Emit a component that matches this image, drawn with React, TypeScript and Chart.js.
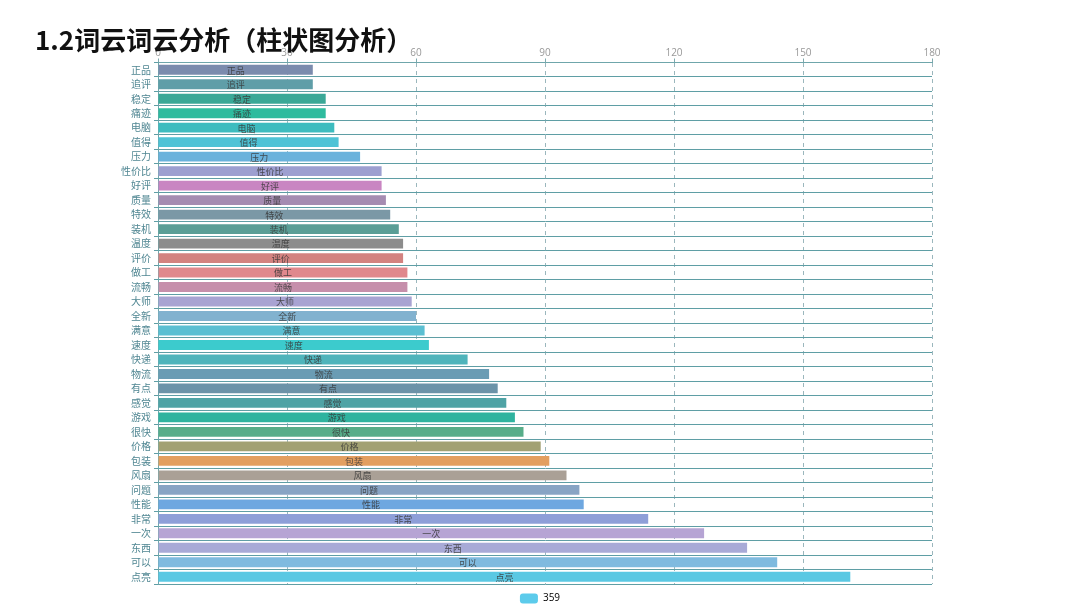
import React, { useEffect, useRef } from "react";
import { Chart, registerables } from "chart.js";

Chart.register(...registerables);

const categories = [
  "正品", "追评", "稳定", "痛迹", "电脑", "值得", "压力", "性价比", "好评", "质量", "特效", "装机",
  "温度", "评价", "做工", "流畅", "大师", "全新", "满意", "速度", "快递", "物流", "有点", "感觉",
  "游戏", "很快", "价格", "包装", "风扇", "问题", "性能", "非常", "一次", "东西", "可以", "点亮",
];

const values = [
  36, 36, 39, 39, 41, 42, 47, 52, 52, 53, 54, 56,
  57, 57, 58, 58, 59, 60, 62, 63, 72, 77, 79, 81,
  83, 85, 89, 91, 95, 98, 99, 114, 127, 137, 144, 161,
];

const barColors = [
  "#7b8bad", "#5f9ea8", "#3aa897", "#2ebb9e", "#3dbcbf", "#4ec3d6", "#6ab2dc", "#9d9fd0", "#c985c2", "#a58cb1", "#7b98a6", "#5a9e96",
  "#8c8c8c", "#d38280", "#e0888d", "#c68fab", "#a8a3d2", "#82b2cf", "#5bbfd2", "#3ccbcd", "#4fb4bb", "#6a9cb4", "#6c93a8", "#4fa3a5",
  "#2fb39f", "#58ad89", "#a2a173", "#e39f60", "#aaa096", "#88a4c4", "#6ea7e0", "#8e9fd8", "#b6a4d4", "#a8aad7", "#7fbadf", "#5ac8e3",
];

const xTicks = [0, 30, 60, 90, 120, 150, 180];
const seriesLabel = "359";

export default function App() {
  const canvasRef = useRef<HTMLCanvasElement | null>(null);

  useEffect(() => {
    if (!canvasRef.current) return;
    const barLabelPlugin = {
      id: "barLabels",
      afterDatasetsDraw(chart: any) {
        const ctx = chart.ctx;
        const meta = chart.getDatasetMeta(0);
        ctx.save();
        ctx.font = '9px "Noto Sans CJK SC", sans-serif';
        ctx.fillStyle = "rgba(55,55,55,0.85)";
        ctx.textAlign = "center";
        ctx.textBaseline = "middle";
        meta.data.forEach((el: any, i: number) => {
          const p = el.getProps(["x", "y", "base"], true);
          ctx.fillText(categories[i], (p.x + p.base) / 2, p.y + 0.5);
        });
        ctx.restore();
      },
    };

    const chart = new Chart(canvasRef.current, {
      type: "bar",
      data: {
        labels: categories,
        datasets: [
          {
            label: seriesLabel,
            data: values,
            backgroundColor: barColors,
            barPercentage: 0.68,
            categoryPercentage: 1,
          },
        ],
      },
      options: {
        indexAxis: "y",
        responsive: false,
        animation: false,
        layout: { padding: { top: 0, left: 0, right: 0, bottom: -5.5 } },
        scales: {
          x: {
            position: "top",
            min: 0,
            max: 180,
            afterBuildTicks: (scale: any) => {
              scale.ticks = xTicks.map((v) => ({ value: v }));
            },
            afterFit: (scale: any) => {
              scale.height = 62.5;
            },
            ticks: {
              color: "#999",
              font: { size: 10, family: '"Open Sans", "Noto Sans", sans-serif' },
              padding: -1,
              maxRotation: 0,
            },
            grid: {
              color: "#9bb7bd",
              tickLength: 4,
              tickColor: "#7fa9ae",
              tickBorderDash: [],
            } as any,
            border: { display: true, color: "#6fa6ab", width: 1, dash: [4, 4] },
          },
          y: {
            type: "category",
            position: "left",
            afterFit: (scale: any) => {
              scale.width = 158;
            },
            ticks: {
              color: "#4f8692",
              font: { size: 10, family: '"Noto Sans CJK SC", sans-serif' },
              padding: 3,
              autoSkip: false,
            },
            grid: {
              offset: true,
              color: "#5f9ea5",
              lineWidth: 1,
              tickLength: 4,
            },
            border: { display: true, color: "#6fa6ab", width: 1 },
          },
          spacer: {
            type: "linear",
            axis: "y",
            position: "right",
            display: true,
            afterFit: (scale: any) => {
              scale.width = 148;
            },
            ticks: { display: false },
            grid: { display: false, drawTicks: false },
            border: { display: false },
          },
        },
        plugins: {
          legend: {
            display: true,
            position: "bottom",
            labels: {
              boxWidth: 18,
              boxHeight: 10,
              padding: 9.5,
              color: "#666",
              font: { size: 10, family: '"Open Sans", "Noto Sans", sans-serif' },
              useBorderRadius: true,
              borderRadius: 3,
              generateLabels: () => [
                {
                  text: seriesLabel,
                  fillStyle: "#5ccbeb",
                  strokeStyle: "#5ccbeb",
                  lineWidth: 0,
                  hidden: false,
                  datasetIndex: 0,
                  borderRadius: 3,
                } as any,
              ],
            },
          },
          tooltip: { enabled: false },
          title: { display: false },
        },
      },
      plugins: [barLabelPlugin],
    } as any);

    return () => chart.destroy();
  }, []);

  return (
    <div style={{ position: "absolute", left: 0, top: 0, width: 1080, height: 608, background: "#fff" }}>
      <canvas ref={canvasRef} width={1080} height={608} style={{ position: "absolute", left: 0, top: 0 }} />
      <div
        style={{
          position: "absolute",
          left: 35,
          top: 26,
          fontFamily: '"Noto Sans CJK SC", sans-serif',
          fontWeight: 700,
          fontSize: 26,
          lineHeight: "26px",
          color: "#111",
          whiteSpace: "nowrap",
        }}
      >
        1.2词云词云分析（柱状图分析）
      </div>
    </div>
  );
}
